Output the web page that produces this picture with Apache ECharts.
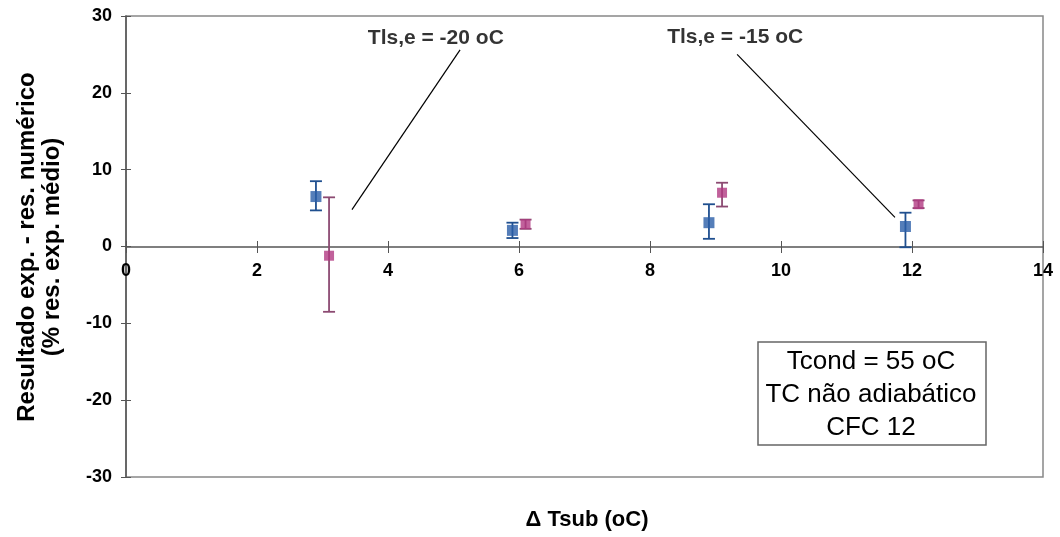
<!DOCTYPE html>
<html>
<head>
<meta charset="utf-8">
<script src="https://cdn.jsdelivr.net/npm/echarts@6/dist/echarts.min.js"></script>
<style>html,body{margin:0;padding:0;background:#fff;}#c{width:1060px;height:537px;}</style>
</head>
<body>
<div id="c"></div>
<script>
// ---- data ----
const xTicks = [0, 2, 4, 6, 8, 10, 12, 14];
const yTicks = [-30, -20, -10, 0, 10, 20, 30];
const blueX = [2.9, 5.9, 8.9, 11.9];
const blueY = [6.5, 2.1, 3.1, 2.6];
const blueLow = [4.7, 1.1, 1.0, -0.1];
const blueHigh = [8.5, 3.1, 5.5, 4.4];
const magX = [3.1, 6.1, 9.1, 12.1];
const magY = [-1.2, 2.9, 7.0, 5.5];
const magLow = [-8.5, 2.3, 5.2, 5.0];
const magHigh = [6.4, 3.5, 8.3, 6.0];
const annoText = ['Tls,e = -20 oC', 'Tls,e = -15 oC'];
const annoTextPos = [[4.73, 27.1], [9.30, 27.3]];
const annoLine1 = [[5.10, 25.6], [3.45, 4.8]];
const annoLine2 = [[9.33, 25.0], [11.74, 3.8]];
const boxLines = ['Tcond = 55 oC', 'TC não adiabático', 'CFC 12'];
const xTitle = 'Δ Tsub (oC)';
const yTitle = ['Resultado exp. - res. numérico', '(% res. exp. médio)'];

const blueCol = '#2a5ea8', blueBar = '#1f4f8f';
const magCol = '#b13a82', magBar = '#8c4a72';

function errSeries(xs, lo, hi, color) {
  return {
    type: 'custom', z: 3,
    data: xs.map((x, i) => [x, lo[i], hi[i]]),
    renderItem: function (params, api) {
      const p1 = api.coord([api.value(0), api.value(1)]);
      const p2 = api.coord([api.value(0), api.value(2)]);
      const w = 6;
      const st = { stroke: color, lineWidth: 1.8 };
      return { type: 'group', children: [
        { type: 'line', shape: { x1: p1[0], y1: p1[1], x2: p2[0], y2: p2[1] }, style: st },
        { type: 'line', shape: { x1: p1[0] - w, y1: p1[1], x2: p1[0] + w, y2: p1[1] }, style: st },
        { type: 'line', shape: { x1: p2[0] - w, y1: p2[1], x2: p2[0] + w, y2: p2[1] }, style: st }
      ]};
    }
  };
}

const FF = 'Liberation Sans, Arial, sans-serif';
const chart = echarts.init(document.getElementById('c'));
const tickFont = { fontFamily: FF, fontWeight: 'bold', fontSize: 18, color: '#000' };
const zeroOffset = -230; // x-axis drawn at y = 0 (grid bottom is at -30)
chart.setOption({
  animation: false,
  grid: { left: 126, right: 17, top: 16, bottom: 60, show: true, borderColor: '#888', borderWidth: 1.5 },
  xAxis: [{
    type: 'value', min: 0, max: 14, interval: 2, offset: zeroOffset,
    axisLine: { onZero: false, lineStyle: { color: '#555', width: 1.5 } },
    axisTick: { show: true, length: 6, lineStyle: { color: '#555' } },
    axisLabel: Object.assign({ margin: 15, formatter: v => String(v) }, tickFont),
    splitLine: { show: false }
  }, {
    type: 'value', min: 0, max: 14, interval: 2, offset: zeroOffset, position: 'bottom',
    axisLine: { show: false, onZero: false },
    axisTick: { show: true, inside: true, length: 6, lineStyle: { color: '#555' } },
    axisLabel: { show: false }, splitLine: { show: false }
  }],
  yAxis: [{
    type: 'value', min: -30, max: 30, interval: 10,
    axisLine: { show: true, onZero: false, lineStyle: { color: '#555', width: 1.5 } },
    axisTick: { show: true, length: 5, lineStyle: { color: '#555' } },
    axisLabel: Object.assign({ margin: 14 }, tickFont),
    splitLine: { show: false }
  }, {
    type: 'value', min: -30, max: 30, interval: 10, position: 'left',
    axisLine: { show: false, onZero: false },
    axisTick: { show: true, inside: true, length: 5, lineStyle: { color: '#555' } },
    axisLabel: { show: false }, splitLine: { show: false }
  }],
  series: [
    errSeries(blueX, blueLow, blueHigh, blueBar),
    errSeries(magX, magLow, magHigh, magBar),
    { type: 'scatter', z: 4, symbol: 'rect', symbolSize: 11, itemStyle: { color: blueCol }, data: blueX.map((x, i) => [x, blueY[i]]) },
    { type: 'scatter', z: 4, symbol: 'rect', symbolSize: 10, itemStyle: { color: magCol }, data: magX.map((x, i) => [x, magY[i]]) },
    { type: 'line', symbol: 'none', lineStyle: { color: '#000', width: 1.2 }, data: annoLine1, silent: true },
    { type: 'line', symbol: 'none', lineStyle: { color: '#000', width: 1.2 }, data: annoLine2, silent: true },
    { type: 'scatter', symbolSize: 0, silent: true,
      data: annoTextPos.map((p, i) => ({ value: p, label: { show: true, position: 'inside', formatter: annoText[i],
        fontFamily: FF, fontWeight: 'bold', fontSize: 21, color: '#000' } })) }
  ],
  graphic: [
    { type: 'text', x: 40, y: 247, rotation: Math.PI / 2,
      style: { text: yTitle.join('\n'), align: 'center', verticalAlign: 'middle',
        lineHeight: 25, fontFamily: FF, fontWeight: 'bold', fontSize: 24, fill: '#000' } },
    { type: 'text', x: 587, y: 520,
      style: { text: xTitle, align: 'center', verticalAlign: 'middle', fontFamily: FF, fontWeight: 'bold', fontSize: 22, fill: '#000' } },
    { type: 'rect', shape: { x: 758, y: 342, width: 228, height: 103 }, style: { fill: '#fff', stroke: '#666', lineWidth: 1.5 }, z: 10 },
    { type: 'text', z: 11, x: 871, y: 395, style: { text: boxLines.join('\n'), align: 'center', verticalAlign: 'middle',
        lineHeight: 33, fontFamily: FF, fontSize: 26, fill: '#000' } }
  ]
});
</script>
</body>
</html>
